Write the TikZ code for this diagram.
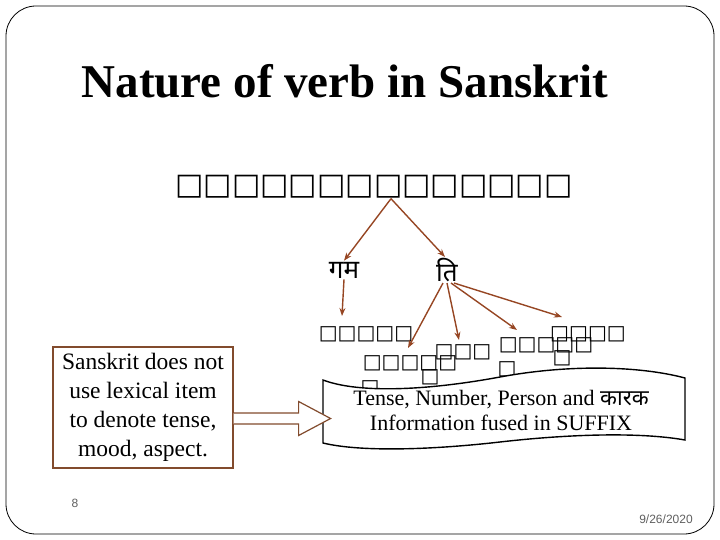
\documentclass[tikz,border=0pt]{standalone}
\usepackage{fontspec}
\setmainfont{Liberation Serif}
\newfontfamily\devafont[Script=Devanagari]{Noto Sans}
\newfontfamily\tofufont{DejaVu Sans}
\newfontfamily\slidefont{Liberation Sans}
\usetikzlibrary{positioning,arrows.meta}
\definecolor{rust}{RGB}{150,70,35}
\definecolor{boxbrown}{RGB}{130,75,45}
\definecolor{pagegrey}{RGB}{95,95,95}

\begin{document}
\begin{tikzpicture}[
    x=1pt, y=-1pt,
    tofu/.style={inner sep=0pt, font=\tofufont\fontsize{30}{30}\selectfont},
    smalltofu/.style={inner sep=0pt, font=\tofufont\fontsize{20}{20}\selectfont},
    root/.style={inner sep=1pt, font=\devafont\fontsize{26}{30}\selectfont},
    arrow/.style={-{Stealth[length=8pt,width=6pt]}, rust, line width=1.4pt},
    note/.style={rectangle, draw=boxbrown, line width=1.2pt, fill=white, align=center, inner sep=2pt, minimum width=180pt, minimum height=121pt, font=\fontsize{23.5}{29}\selectfont},
    blockarrow/.style={draw=boxbrown, line width=1.2pt, fill=white, line join=miter},
    wave/.style={draw=black, line width=1.4pt, fill=white},
    footer/.style={font=\slidefont\fontsize{12}{14}\selectfont, pagegrey},
]
    \useasboundingbox (0,0) rectangle (720,540);
    % Slide frame
    \draw[line width=0.8pt, rounded corners=30pt] (6,6) rectangle (714,534);
    \node[font=\bfseries\fontsize{47}{50}\selectfont] (title) at (345,81) {Nature of verb in Sanskrit};

    % Verb and its two parts
    \node[tofu] (verb) at (374,187) {□□□□□□□□□□□□□□};
    \node[root] (gam) at (344,270) {गम};
    \node[root] (ti) at (447,270) {ति};

    % Suffix information (glyphs missing)
    \node[smalltofu] (rowa) at (366,334) {□□□□□};
    \node[smalltofu] (rowb) at (410,363) {□□□□□};
    \node[smalltofu] (rowc) at (463,352) {□□□};
    \node[smalltofu] (rowd) at (546,345) {□□□□□};
    \node[smalltofu] (rowe) at (588,334) {□□□□};
    \node[smalltofu] (boxb) at (430,377) {□};
    \node[smalltofu] (boxd) at (507,369) {□};
    \node[smalltofu] (boxe) at (562,358) {□};
    \node[smalltofu] (boxa) at (370,388) {□};

    % Callout
    \draw[wave] (323,380) .. controls (360,394) and (430,390) .. (500,377)
        .. controls (570,364) and (640,366) .. (685,378) -- (685,440)
        .. controls (640,432) and (570,434) .. (500,442)
        .. controls (430,450) and (360,452) .. (323,443) -- cycle;
    \node[font=\fontsize{22}{25}\selectfont, align=center] (suffix) at (501,410)
        {Tense, Number, Person and {\devafont कारक}\\Information fused in SUFFIX};

    \node[note] (note) at (143,407.5) {Sanskrit does not\\use lexical item\\to denote tense,\\mood, aspect.};
    \draw[blockarrow] ([yshift=-5.5pt]note.east) -- ++(65,0) -- ++(0,-11.5) -- ++(32,17)
        -- ++(-32,17) -- ++(0,-11.5) -- ++(-65,0);

    % Arrows
    \coordinate (gamend) at (342,316);
    \coordinate (tia) at (408,348);
    \coordinate (tib) at (459,340);
    \coordinate (tic) at (517,330);
    \coordinate (tid) at (562,317);
    \draw[arrow] ([xshift=17pt]verb.south) -- (gam.north);
    \draw[arrow] ([xshift=17pt]verb.south) -- ([xshift=-2pt]ti.north);
    \draw[arrow] (gam.south) -- (gamend);
    \draw[arrow] ([xshift=-4pt]ti.south) -- (tia);
    \draw[arrow] ([xshift=0pt]ti.south) -- (tib);
    \draw[arrow] ([xshift=4pt]ti.south) -- (tic);
    \draw[arrow] ([xshift=7pt]ti.south) -- (tid);

    \node[footer] (page) at (75,503) {8};
    \node[footer] (date) at (666,519) {9/26/2020};
\end{tikzpicture}
\end{document}
